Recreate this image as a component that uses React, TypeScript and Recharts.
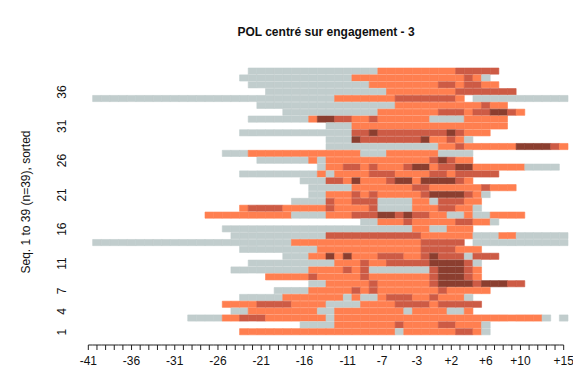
import React from 'react';
import { BarChart, Bar, XAxis, YAxis, Cell } from 'recharts';

// time positions around engagement (there is no position 0)
const positions = [
  '-41', '-40', '-39', '-38', '-37', '-36', '-35', '-34', '-33', '-32',
  '-31', '-30', '-29', '-28', '-27', '-26', '-25', '-24', '-23', '-22',
  '-21', '-20', '-19', '-18', '-17', '-16', '-15', '-14', '-13', '-12',
  '-11', '-10', '-9', '-8', '-7', '-6', '-5', '-4', '-3', '-2', '-1',
  '+1', '+2', '+3', '+4', '+5', '+6', '+7', '+8', '+9', '+10',
  '+11', '+12', '+13', '+14', '+15',
];

const xLabels = ['-41', '-36', '-31', '-26', '-21', '-16', '-11', '-7', '-3', '+2', '+6', '+10', '+15'];
const yLabels = [1, 4, 7, 11, 16, 21, 26, 31, 36];

const stateColors: Record<string, string> = {
  G: '#C1CDCD',
  O: '#FF7F50',
  M: '#CD5B45',
  D: '#8B3E2F',
};

// one run-length string per sequence, seq 1 first; '.' = no state
const sequences = [
  '.18 O18 G1 O6 M2 O1 G1',
  '.25 G4 O7 M1 O4 M2 O3 G1',
  '.12 G4 O2 M3 O7 G1 O24 G1 .1 G1',
  '.17 G2 O8 G2 O8 G1 O4 G2 O1',
  '.16 O4 M4 O4 G4 O4 M4 O1 M5',
  '.18 G5 O7 G1 O1 G2 O1 M3 O2 M1 O3 G1',
  '.22 G4 O5 M1 O1 M1 O7 M1 O5',
  '.26 G2 O5 M1 O6 M1 D4 M1 D3 M2',
  '.21 O5 M1 O5 M1 O7 M1 D3 M1 O1',
  '.17 G9 O4 M1 O1 M1 G7 M1 D3 M1 O1',
  '.19 G10 O3 M1 O2 M5 D4 M1 G1',
  '.23 G3 O2 D1 O1 D1 O3 M3 O2 M1 D1 M3 G1 M3',
  '.18 G9 O12 M4 O3',
  '.1 G23 O15 M5 .1 G11',
  '.17 G11 M11 O6 G3 O2 G6',
  '.16 G22 O2 G2 O3',
  '.32 G2 O3 M1 O5 M2 O2 G1',
  '.14 O10 G4 O3 M3 D2 M1 D1 M2 O2 G2 O1 G2 O4',
  '.18 O1 M4 O5 M1 O4 M1 G4 O3 M2 O2 G1',
  '.24 G4 M1 O2 M3 G4 O2 G1 M3 O2',
  '.26 G2 O3 M1 O1 M1 O5 M1 D4 M1 O1 G1',
  '.26 G5 O7 M2 O6 M1 O3',
  '.25 G3 M2 O1 D1 O3 M1 D2 O1 D4 M1 O1',
  '.18 G9 O1 G1 O4 M3 O4 M2 O1 M5',
  '.27 G1 O2 M2 O1 M1 O3 M1 D2 O1 M2 D2 O6 G4',
  '.20 G6 O1 G1 O12 M1 D1 M1 O2',
  '.16 G3 O13 G3 O6 G4',
  '.28 G13 O2 M1 O6 D4 M1 O1',
  '.28 G3 D1 M7 D1 O2 M1 O1 G1',
  '.18 G13 M2 D1 M8 D1 M1 O3',
  '.28 G3 O18',
  '.19 G7 O1 D2 M2 O2 M1 O6 G4 O5',
  '.23 G11 O7 M3 O1 M2 D2 M1 O1',
  '.20 G16 O10 M1 O2',
  '.1 G28 O7 M7 O1 .1 G11',
  '.21 G14 O8 M7',
  '.19 G14 O8 M2 O1 M2 O2',
  '.18 G13 O13 M1 O1 G1',
  '.19 G15 O9 M5',
];

const COLS = positions.length;
const W = 573;
const H = 391;
const PLOT = { left: 84, right: 568, top: 68, bottom: 335.5 };
const colW = (PLOT.right - PLOT.left) / COLS;
const bandH = (PLOT.bottom - PLOT.top) / sequences.length;
const FONT = '"Liberation Sans", Arial, sans-serif';

const expand = (s: string) => {
  const out: (string | null)[] = [];
  s.split(' ').forEach((tok) => {
    const st = tok[0];
    const n = Number(tok.slice(1));
    for (let k = 0; k < n; k++) out.push(st === '.' ? null : st);
  });
  while (out.length < COLS) out.push(null);
  return out;
};

// top row of the plot is the last sequence
const grid = sequences.map(expand).reverse();
const chartData = grid.map((_, r) => {
  const row: Record<string, number> = { seq: sequences.length - r };
  positions.forEach((_, i) => {
    row[`c${i}`] = 1;
  });
  return row;
});

const XTick = (props: any) => {
  const { x, y, payload } = props;
  const idx = Math.round(payload.value - 0.5);
  const label = positions[idx];
  const ly = y + 9.5;
  const x1 = idx === 0 ? x : x - colW / 2;
  const x2 = idx === COLS - 1 ? x : x + colW / 2;
  return (
    <g>
      <line x1={x1} x2={x2} y1={ly} y2={ly} stroke="#222" strokeWidth={1} />
      <line x1={x} x2={x} y1={ly} y2={ly + 5} stroke="#222" strokeWidth={1} />
      {xLabels.includes(label) && (
        <text x={x} y={ly + 20} textAnchor="middle" fontSize={12} fontFamily={FONT} fill="#111">
          {label}
        </text>
      )}
    </g>
  );
};

const YTick = (props: any) => {
  const { x, y, payload } = props;
  if (!yLabels.includes(Number(payload.value))) return null;
  const tx = x - 22;
  return (
    <text
      x={tx}
      y={y}
      transform={`rotate(-90, ${tx}, ${y})`}
      textAnchor="middle"
      dominantBaseline="central"
      fontSize={12}
      fontFamily={FONT}
      fill="#111"
    >
      {payload.value}
    </text>
  );
};

export default function App() {
  return (
    <div style={{ position: 'relative', width: W, height: H, background: '#fff', fontFamily: FONT }}>
      <style>{'body { margin: 0; }'}</style>
      <div
        style={{
          position: 'absolute',
          left: (PLOT.left + PLOT.right) / 2,
          top: 32,
          transform: 'translate(-50%, -50%)',
          fontWeight: 700,
          fontSize: 12,
          whiteSpace: 'nowrap',
          color: '#111',
        }}
      >
        POL centré sur engagement - 3
      </div>
      <div
        style={{
          position: 'absolute',
          left: 26,
          top: (PLOT.top + PLOT.bottom) / 2,
          transform: 'translate(-50%, -50%) rotate(-90deg)',
          fontSize: 12,
          whiteSpace: 'nowrap',
          color: '#111',
        }}
      >
        Seq. 1 to 39 (n=39), sorted
      </div>
      <BarChart
        width={W}
        height={H}
        data={chartData}
        layout="vertical"
        barCategoryGap={0}
        barGap={0}
        margin={{ top: PLOT.top, right: W - PLOT.right, bottom: H - PLOT.bottom - 50, left: PLOT.left - 30 }}
      >
        <XAxis
          type="number"
          domain={[0, COLS]}
          ticks={positions.map((_, i) => i + 0.5)}
          interval={0}
          allowDecimals
          tick={(p: any) => <XTick {...p} />}
          tickSize={0}
          tickMargin={0}
          axisLine={false}
          tickLine={false}
          height={50}
        />
        <YAxis
          type="category"
          dataKey="seq"
          width={30}
          interval={0}
          tick={(p: any) => <YTick {...p} />}
          tickSize={0}
          tickMargin={0}
          axisLine={false}
          tickLine={false}
        />
        {positions.map((_, i) => (
          <Bar key={i} dataKey={`c${i}`} stackId="s" barSize={bandH} isAnimationActive={false}>
            {grid.map((row, r) => {
              const st = row[i];
              const fill = st ? stateColors[st] : 'none';
              return (
                <Cell
                  key={r}
                  fill={fill}
                  stroke={st ? fill : 'none'}
                  strokeWidth={st ? 0.6 : 0}
                />
              );
            })}
          </Bar>
        ))}
      </BarChart>
    </div>
  );
}
